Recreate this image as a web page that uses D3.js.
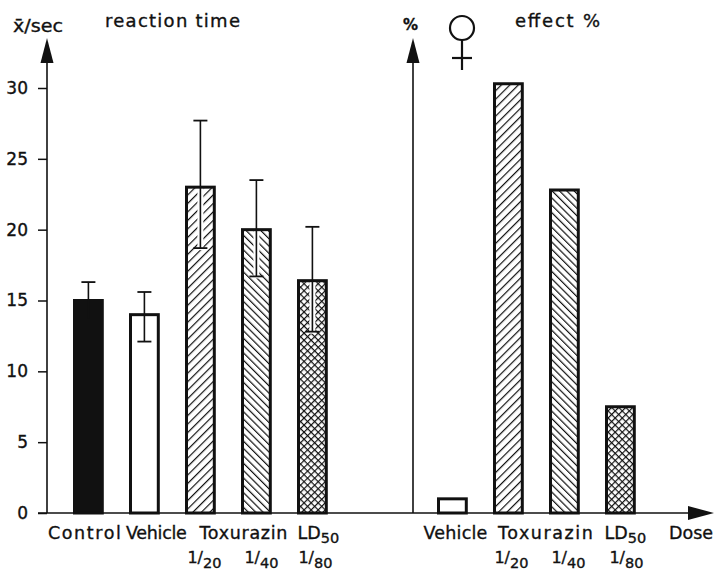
<!DOCTYPE html>
<html>
<head>
<meta charset="utf-8">
<script src="https://cdn.jsdelivr.net/npm/d3@7"></script>
<style>
  html, body { margin: 0; padding: 0; background: #fff; }
  svg { display: block; }
  text { font-family: "DejaVu Sans", sans-serif; fill: #111; stroke: #111; stroke-width: 0.35px; }
</style>
</head>
<body>
<svg id="chart" width="714" height="571"></svg>
<script>
// ---- data ----
const reactionCats = ["Control", "Vehicle", "Toxurazin 1/20", "Toxurazin 1/40", "LD50 1/80"];
const reactionMean = [15, 14, 23, 20, 16.4];
const reactionErrHigh = [16.3, 15.6, 27.7, 23.5, 20.2];
const reactionErrLow = [13.7, 12.1, 18.7, 16.7, 12.8];

const effectCats = ["Vehicle", "Toxurazin 1/20", "Toxurazin 1/40", "LD50 1/80"];
const effectPct = [1, 30.3, 22.8, 7.5];

const yTicks = [0, 5, 10, 15, 20, 25, 30];
const doseFractions = ["1/20", "1/40", "1/80"];

// ---- layout ----
const svg = d3.select("#chart");
const ink = "#111";
const y = d3.scaleLinear().domain([0, 30]).range([513, 88]);
const baseY = y(0);

const xLeft = d3.scaleBand().domain(reactionCats).range([61.8, 339]).paddingInner(0.45).paddingOuter(0.2);
const xRight = d3.scaleBand().domain(effectCats).range([425.8, 647]).paddingInner(0.45).paddingOuter(0.2);

const leftAxisX = 47, rightAxisX = 413;

// hatch patterns
const defs = svg.append("defs");
function hatch(id, angle, gap, cross) {
  const p = defs.append("pattern").attr("id", id)
    .attr("patternUnits", "userSpaceOnUse")
    .attr("width", gap).attr("height", gap)
    .attr("patternTransform", `rotate(${angle})`);
  p.append("rect").attr("width", gap).attr("height", gap).attr("fill", "#fff");
  p.append("line").attr("x1", 0.6).attr("y1", 0).attr("x2", 0.6).attr("y2", gap)
    .attr("stroke", ink).attr("stroke-width", 1.2);
  if (cross) {
    p.append("line").attr("x1", 0).attr("y1", 0.6).attr("x2", gap).attr("y2", 0.6)
      .attr("stroke", ink).attr("stroke-width", 1.2);
  }
}
hatch("hUp", 45, 6, false);
hatch("hDown", -45, 5.2, false);
hatch("hCross", 45, 5, true);

const fillFor = {
  "Control": ink,
  "Vehicle": "#fff",
  "Toxurazin 1/20": "url(#hUp)",
  "Toxurazin 1/40": "url(#hDown)",
  "LD50 1/80": "url(#hCross)"
};

// ---- left panel: reaction time ----
const gL = svg.append("g");
const inset = 1.5;
gL.selectAll("rect.fill").data(reactionCats).join("rect")
  .attr("x", d => xLeft(d) + inset)
  .attr("width", xLeft.bandwidth() - 2 * inset)
  .attr("y", (d, i) => y(reactionMean[i]))
  .attr("height", (d, i) => baseY - y(reactionMean[i]))
  .attr("fill", d => fillFor[d]);

// white gap around error line inside hatched bars
gL.selectAll("line.halo").data(reactionCats).join("line")
  .attr("x1", d => xLeft(d) + xLeft.bandwidth() / 2)
  .attr("x2", d => xLeft(d) + xLeft.bandwidth() / 2)
  .attr("y1", (d, i) => y(reactionErrLow[i]) + 2)
  .attr("y2", (d, i) => y(reactionMean[i]))
  .attr("stroke", (d, i) => i === 0 ? "none" : "#fff")
  .attr("stroke-width", 6);

gL.selectAll("rect.outline").data(reactionCats).join("rect")
  .attr("x", d => xLeft(d) + inset)
  .attr("width", xLeft.bandwidth() - 2 * inset)
  .attr("y", (d, i) => y(reactionMean[i]))
  .attr("height", (d, i) => baseY - y(reactionMean[i]))
  .attr("fill", "none").attr("stroke", ink).attr("stroke-width", 3);

// error bars
const eb = gL.selectAll("g.err").data(reactionCats).join("g")
  .attr("transform", d => `translate(${xLeft(d) + xLeft.bandwidth() / 2},0)`);
eb.append("line")
  .attr("y1", (d, i) => y(reactionErrLow[i])).attr("y2", (d, i) => y(reactionErrHigh[i]))
  .attr("stroke", ink).attr("stroke-width", 1.6);
eb.append("line").attr("x1", -7).attr("x2", 7)
  .attr("y1", (d, i) => y(reactionErrHigh[i])).attr("y2", (d, i) => y(reactionErrHigh[i]))
  .attr("stroke", ink).attr("stroke-width", 1.8);
eb.append("line").attr("x1", -7).attr("x2", 7)
  .attr("y1", (d, i) => y(reactionErrLow[i])).attr("y2", (d, i) => y(reactionErrLow[i]))
  .attr("stroke", (d, i) => i === 0 ? "none" : ink).attr("stroke-width", 1.8);

// ---- right panel: effect % ----
const gR = svg.append("g");
gR.selectAll("rect").data(effectCats).join("rect")
  .attr("x", d => xRight(d) + inset)
  .attr("width", xRight.bandwidth() - 2 * inset)
  .attr("y", (d, i) => y(effectPct[i]))
  .attr("height", (d, i) => baseY - y(effectPct[i]))
  .attr("fill", d => fillFor[d])
  .attr("stroke", ink).attr("stroke-width", 3);

// ---- axes ----
const axisG = svg.append("g").attr("transform", `translate(${leftAxisX},0)`)
  .call(d3.axisLeft(y).tickValues(yTicks).tickSize(9).tickPadding(10));
axisG.select(".domain").remove();
axisG.selectAll(".tick line").attr("stroke", ink).attr("stroke-width", 1.5);
axisG.selectAll(".tick text")
  .style("font-family", "DejaVu Sans, sans-serif").style("font-size", "17px")
  .attr("fill", ink).attr("stroke", ink).attr("stroke-width", 0.35);

function arrowUp(x) {
  svg.append("line").attr("x1", x).attr("x2", x).attr("y1", baseY).attr("y2", 60)
    .attr("stroke", ink).attr("stroke-width", 1.6);
  svg.append("path").attr("d", `M${x},38 L${x - 6.5},63 L${x + 6.5},63 Z`).attr("fill", ink);
}
arrowUp(leftAxisX);
arrowUp(rightAxisX);

// baseline with arrow towards dose
svg.append("line").attr("x1", 38).attr("x2", 695).attr("y1", baseY).attr("y2", baseY)
  .attr("stroke", ink).attr("stroke-width", 1.6);
svg.append("path").attr("d", `M714,${baseY} L688,${baseY - 7} L688,${baseY + 7} Z`).attr("fill", ink);

// ---- titles ----
svg.append("text").attr("x", 13).attr("y", 32).style("font-size", "17px")
  .attr("textLength", 50).attr("lengthAdjust", "spacingAndGlyphs").text("x\u0304/sec");
svg.append("text").attr("x", 105).attr("y", 27).style("font-size", "18px")
  .attr("textLength", 135).attr("lengthAdjust", "spacing").text("reaction time");
svg.append("text").attr("x", 403).attr("y", 30).style("font-size", "15px").style("font-weight", "bold")
  .text("%");
svg.append("text").attr("x", 515).attr("y", 27).style("font-size", "18px")
  .attr("textLength", 85).attr("lengthAdjust", "spacing").text("effect %");

// female sign
const venus = svg.append("g").attr("fill", "none").attr("stroke", ink).attr("stroke-width", 2.2);
venus.append("circle").attr("cx", 462).attr("cy", 28).attr("r", 12);
venus.append("line").attr("x1", 462).attr("x2", 462).attr("y1", 40).attr("y2", 70);
venus.append("line").attr("x1", 452).attr("x2", 472).attr("y1", 58).attr("y2", 58);

// ---- category labels ----
const rowY = 539, fracY = 563;
function centerL(c) { return xLeft(c) + xLeft.bandwidth() / 2; }
function centerR(c) { return xRight(c) + xRight.bandwidth() / 2; }

function word(x, text, width) {
  svg.append("text").attr("x", x).attr("y", rowY).attr("text-anchor", "middle")
    .style("font-size", "17.5px").attr("textLength", width).attr("lengthAdjust", "spacing").text(text);
}
function ld50(x) {
  const t = svg.append("text").attr("x", x).attr("y", rowY).attr("text-anchor", "middle")
    .style("font-size", "17.5px");
  t.append("tspan").text("LD");
  t.append("tspan").attr("dy", 4).style("font-size", "14.5px").text("50");
}
function fraction(x, f) {
  const [num, den] = f.split("/");
  const t = svg.append("text").attr("x", x).attr("y", fracY).attr("text-anchor", "middle")
    .style("font-size", "16px");
  t.append("tspan").text(num + "/");
  t.append("tspan").attr("dy", 5).style("font-size", "14.5px").text(den);
}

word(centerL("Control") - 4, "Control", 73);
word(centerL("Vehicle") + 12, "Vehicle", 61);
word(centerL("Toxurazin 1/20") + 43, "Toxurazin", 88);
ld50(centerL("LD50 1/80") + 6);
fraction(centerL("Toxurazin 1/20") + 4, doseFractions[0]);
fraction(centerL("Toxurazin 1/40") + 5, doseFractions[1]);
fraction(centerL("LD50 1/80") + 3, doseFractions[2]);

word(centerR("Vehicle") + 3, "Vehicle", 64);
word(centerR("Toxurazin 1/20") + 37, "Toxurazin", 95);
ld50(centerR("LD50 1/80") + 5);
fraction(centerR("Toxurazin 1/20") + 3, doseFractions[0]);
fraction(centerR("Toxurazin 1/40") + 4, doseFractions[1]);
fraction(centerR("LD50 1/80") + 6, doseFractions[2]);
svg.append("text").attr("x", 713).attr("y", rowY).attr("text-anchor", "end")
  .style("font-size", "17.5px").attr("textLength", 44).attr("lengthAdjust", "spacing").text("Dose");
</script>
</body>
</html>
